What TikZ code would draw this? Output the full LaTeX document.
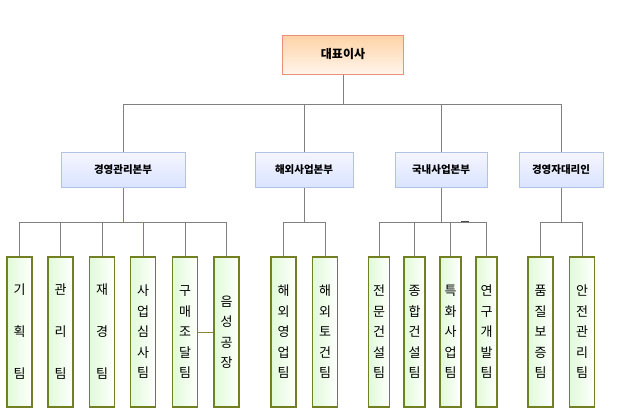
\documentclass[tikz,border=0pt]{standalone}
\usepackage{fontspec}
\setmainfont{Noto Sans CJK KR}
\begin{document}
\begin{tikzpicture}[x=1pt,y=-1pt,
 conn/.style={draw=black!50,line width=0.8pt},
 oconn/.style={draw=olive!70!black!80,line width=0.8pt},
 ceo/.style={draw=red!45!brown!60,line width=1pt,top color=orange!35,bottom color=orange!8,minimum width=121pt,minimum height=39pt,inner sep=0pt,font=\bfseries\fontsize{12}{14}\selectfont},
 div/.style={draw=cyan!40!blue!30,line width=1pt,top color=blue!4,bottom color=cyan!30!blue!15,minimum height=35pt,inner sep=0pt,font=\bfseries\fontsize{10.5}{12}\selectfont},
 team/.style={draw=olive!75!green!80!black,line width=1.2pt,left color=olive!25!green!14,right color=white,minimum width=25pt,minimum height=150pt,inner sep=0pt,align=center,font=\fontsize{13}{20.5}\selectfont},
 narrow/.style={minimum width=21pt},
 wide/.style={font=\fontsize{13}{42}\selectfont}]
\useasboundingbox (0,0) rectangle (629,416);
\node[ceo] (top) at (343,54.5) {대표이사};
\node[div,minimum width=124pt] (d1) at (123,170) {경영관리본부};
\node[div,minimum width=98pt] (d2) at (304,170) {해외사업본부};
\node[div,minimum width=92pt] (d3) at (441,170) {국내사업본부};
\node[div,minimum width=84pt] (d4) at (561,170) {경영자대리인};
\coordinate (bus) at (343,104);
\draw[conn] (top.south) -- (bus);
\draw[conn] (d1.north) |- (d4.north|-bus) -- (d4.north);
\draw[conn] (d2.north) -- (d2.north|-bus);
\draw[conn] (d3.north) -- (d3.north|-bus);
\foreach \n/\x/\t/\s in {t1/19.5/기\\획\\팀/wide, t2/60.5/관\\리\\팀/wide, t3/102/재\\경\\팀/wide, t4/143/사\\업\\심\\사\\팀/, t5/185/구\\매\\조\\달\\팀/, t6/226.5/음\\성\\공\\장/,
 t7/283.5/해\\외\\영\\업\\팀/, t8/325/해\\외\\토\\건\\팀/, t9/379/전\\문\\건\\설\\팀/narrow, t10/414.5/종\\합\\건\\설\\팀/narrow, t11/450.5/특\\화\\사\\업\\팀/narrow, t12/486.5/연\\구\\개\\발\\팀/narrow, t13/540.5/품\\질\\보\\증\\팀/, t14/582/안\\전\\관\\리\\팀/}
 {\node[team,\s] (\n) at (\x,332) {\t};}
% group 1
\coordinate (b1) at (123,222);
\draw[oconn] (d1.south) -- (b1);
\draw[conn] (t1.north) |- (t6.north|-b1) -- (t6.north);
\foreach \n in {t2,t3,t5} \draw[conn] (\n.north) -- (\n.north|-b1);
\draw[oconn] (t4.north) -- (t4.north|-b1);
\draw[oconn] (t5.east) -- (t6.west);
% group 2
\draw[conn] (d2.south) -- (d2.south|-b1);
\draw[conn] (t7.north) |- (t8.north|-b1) -- (t8.north);
% group 3
\draw[conn] (d3.south) -- (d3.south|-b1);
\draw[conn] (t9.north) |- (t12.north|-b1) -- (t12.north);
\foreach \n in {t10,t11} \draw[conn] (\n.north) -- (\n.north|-b1);
\coordinate (tk) at (461,221.5);
\draw[black!70,line width=1pt] (tk) -- ++(8,0);
% group 4
\draw[conn] (d4.south) -- (d4.south|-b1);
\draw[conn] (t13.north) |- (t14.north|-b1) -- (t14.north);
\end{tikzpicture}
\end{document}
